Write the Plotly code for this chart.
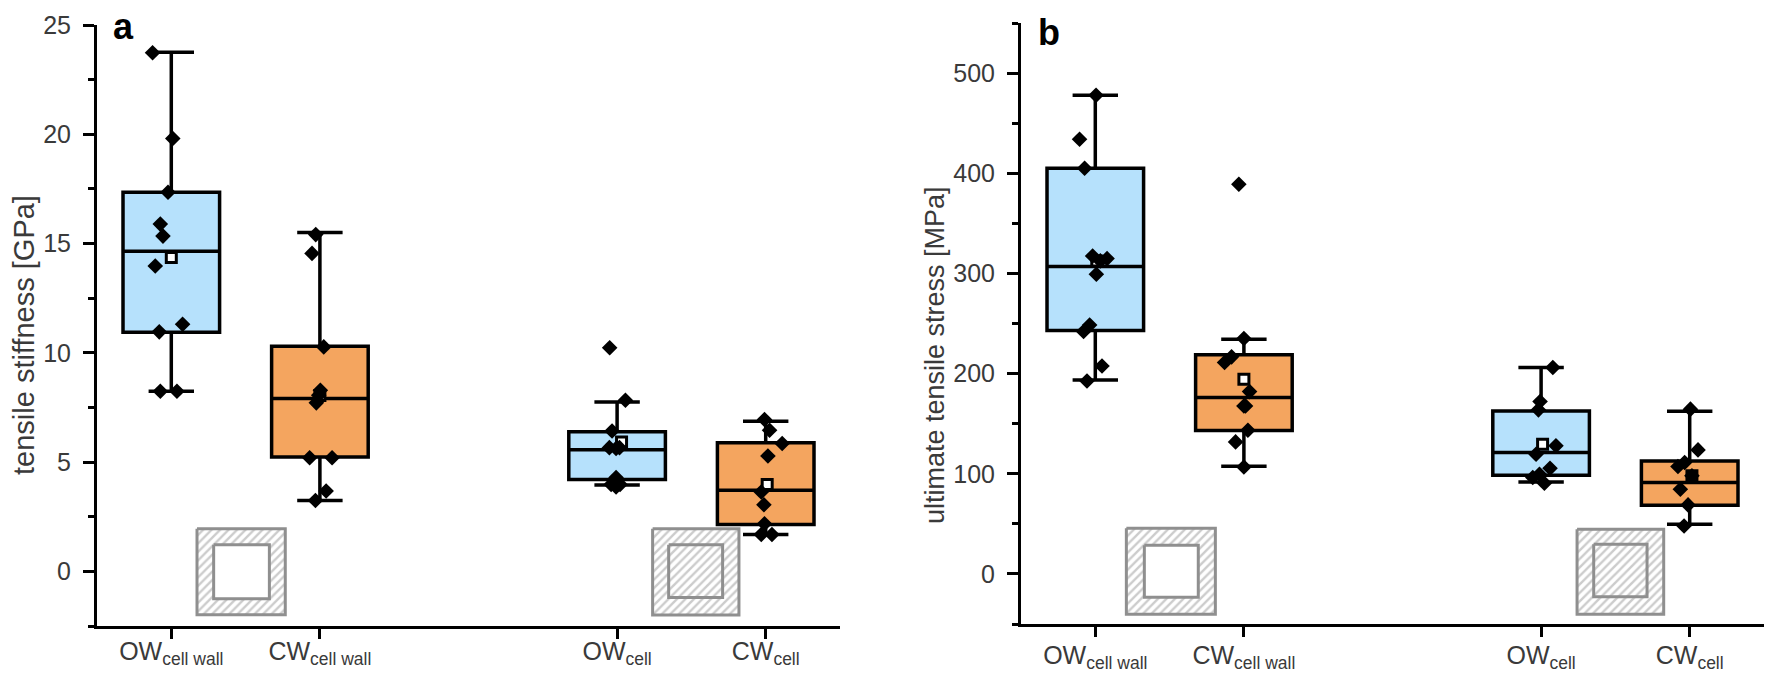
import plotly.graph_objects as go

W, H = 1769, 688
CATEGORIES = ["OW<sub>cell wall</sub>", "CW<sub>cell wall</sub>", "OW<sub>cell</sub>", "CW<sub>cell</sub>"]
POSITIONS = [1, 2, 4, 5]
FILLS = ["#B6E1FC", "#F4A55F", "#B6E1FC", "#F4A55F"]

# ---- panel a: tensile stiffness [GPa]
a_upper = [23.75, 15.5, 7.75, 6.87]
a_q3 = [17.35, 10.3, 6.39, 5.89]
a_median = [14.65, 7.91, 5.57, 3.71]
a_q1 = [10.94, 5.23, 4.2, 2.15]
a_lower = [8.24, 3.24, 3.95, 1.69]
a_mean = [14.36, 8.05, 5.92, 3.98]
a_mean_x = [1.0, 2.0, 4.03, 5.01]
a_pts_x = [
    [0.874, 1.01, 0.978, 0.926, 0.944, 0.892, 1.076, 0.919, 0.926, 1.038],
    [1.972, 1.947, 2.026, 2.003, 1.992, 1.976, 1.931, 2.082, 2.042, 1.97],
    [3.95, 4.056, 3.966, 3.948, 3.993, 4.016, 3.993, 3.96, 3.993, 4.02],
    [4.992, 5.026, 5.111, 5.015, 4.97, 4.988, 4.992, 4.97, 5.042],
]
a_pts_y = [
    [23.73, 19.81, 17.35, 15.89, 15.34, 13.97, 11.31, 10.96, 8.24, 8.24],
    [15.41, 14.55, 10.27, 8.29, 8.06, 7.71, 5.2, 5.2, 3.68, 3.24],
    [10.23, 7.83, 6.42, 5.66, 5.62, 5.66, 4.29, 3.98, 3.86, 3.98],
    [6.95, 6.46, 5.85, 5.28, 3.63, 3.05, 2.18, 1.69, 1.69],
]

# ---- panel b: ultimate tensile stress [MPa]
b_upper = [477.9, 234.3, 206, 162.5]
b_q3 = [405, 218.7, 162.7, 112.8]
b_median = [306.9, 176, 121.2, 91.2]
b_q1 = [243.1, 143.1, 98.5, 68.6]
b_lower = [193.7, 107.5, 91.8, 49.6]
b_mean = [312.5, 194.3, 129.5, 97.9]
b_mean_x = [1.01, 2.0, 4.01, 5.015]
b_pts_x = [
    [1.005, 0.894, 0.928, 0.982, 1.079, 1.034, 1.007, 0.962, 0.921, 1.045, 0.944],
    [1.966, 2.0, 1.917, 1.87, 2.038, 2.011, 2.0, 2.027, 1.944, 2.0],
    [4.079, 3.993, 3.982, 4.1, 3.966, 4.06, 3.989, 3.944, 4.022],
    [5.005, 5.056, 4.966, 4.921, 5.015, 4.937, 4.989, 4.962],
]
b_pts_y = [
    [477.9, 433.9, 405, 317.4, 314.8, 312.5, 299.2, 248.5, 242, 207.6, 192.6],
    [389, 235, 216.7, 211, 182, 167.7, 167.7, 143.4, 131.8, 106.8],
    [206, 172.1, 163.8, 127.9, 119.5, 105.5, 99.5, 96.2, 90.5],
    [164.5, 123.8, 111.2, 107.2, 97.9, 84.6, 68.9, 47.9],
]

# ---- inset squares: (x0, x1, y0, y1) in axis units
a_insets = [((1.173, 1.767, 1.955, -1.98), (1.285, 1.66, 1.22, -1.25), False),
            ((4.239, 4.82, 1.955, -2.0), (4.347, 4.71, 1.22, -1.2), True)]
b_insets = [((1.209, 1.808, 45.6, -40.2), (1.33, 1.693, 28.7, -23.2), False),
            ((4.242, 4.825, 44.6, -40.2), (4.354, 4.713, 29.7, -22.9), True)]

TEXT = "#3a3a3a"
HATCH = dict(shape="/", fgcolor="#999999", bgcolor="white", size=6, solidity=0.4)

fig = go.Figure()


def square(b):
    x0, x1, y0, y1 = b
    return [x0, x1, x1, x0, x0], [y0, y0, y1, y1, y0]


def panel(xa, ya, upper, q3, med, q1, lower, mean, mean_x, px, py, insets):
    for i, pos in enumerate(POSITIONS):
        fig.add_trace(go.Box(
            x=[pos], q1=[q1[i]], median=[med[i]], q3=[q3[i]],
            lowerfence=[lower[i]], upperfence=[upper[i]],
            width=0.65, whiskerwidth=0.47, fillcolor=FILLS[i],
            line=dict(color="black", width=3.5), boxpoints=False,
            xaxis=xa, yaxis=ya, showlegend=False))
    fig.add_trace(go.Scatter(
        x=mean_x, y=mean, mode="markers", xaxis=xa, yaxis=ya, showlegend=False,
        marker=dict(symbol="square", size=10, color="white",
                    line=dict(color="black", width=3))))
    for xs, ys in zip(px, py):
        fig.add_trace(go.Scatter(
            x=xs, y=ys, mode="markers", xaxis=xa, yaxis=ya, showlegend=False,
            marker=dict(symbol="diamond", size=12, color="black")))
    for outer, inner, hatched in insets:
        ox, oy = square(outer)
        fig.add_trace(go.Scatter(
            x=ox, y=oy, mode="lines", fill="toself", fillpattern=HATCH,
            line=dict(color="#8f8f8f", width=3), xaxis=xa, yaxis=ya, showlegend=False))
        ix, iy = square(inner)
        kw = dict(fillpattern=HATCH) if hatched else dict(fillcolor="white")
        fig.add_trace(go.Scatter(
            x=ix, y=iy, mode="lines", fill="toself",
            line=dict(color="#8f8f8f", width=3), xaxis=xa, yaxis=ya, showlegend=False, **kw))


panel("x", "y", a_upper, a_q3, a_median, a_q1, a_lower, a_mean, a_mean_x, a_pts_x, a_pts_y, a_insets)
panel("x2", "y2", b_upper, b_q3, b_median, b_q1, b_lower, b_mean, b_mean_x, b_pts_x, b_pts_y, b_insets)

xcommon = dict(range=[0.5, 5.5], tickmode="array", tickvals=POSITIONS, ticktext=CATEGORIES,
               showgrid=False, zeroline=False, showline=True, linecolor="black", linewidth=3,
               ticks="outside", ticklen=10, tickwidth=3, tickcolor="black",
               tickfont=dict(family="Liberation Sans", size=25, color=TEXT), automargin=False)
ycommon = dict(showgrid=False, zeroline=False, showline=True, linecolor="black", linewidth=3,
               ticks="outside", ticklen=11, tickwidth=3, tickcolor="black", ticklabelstandoff=7,
               tickfont=dict(family="Liberation Sans", size=25, color=TEXT), automargin=False)

fig.update_layout(
    width=W, height=H, margin=dict(l=0, r=0, t=0, b=0), autosize=False,
    paper_bgcolor="white", plot_bgcolor="white", showlegend=False, boxmode="overlay",
    xaxis=dict(domain=[97 / W, 840 / W], anchor="y", ticklabelstandoff=-9, **xcommon),
    yaxis=dict(domain=[(H - 626) / H, (H - 25) / H], anchor="x", range=[-2.5, 25],
               tickvals=[0, 5, 10, 15, 20, 25],
               minor=dict(tickvals=[-2.5, 2.5, 7.5, 12.5, 17.5, 22.5], ticks="outside",
                          ticklen=6, tickwidth=3, tickcolor="black"),
               **ycommon),
    xaxis2=dict(domain=[1021 / W, 1764 / W], anchor="y2", ticklabelstandoff=-3, **xcommon),
    yaxis2=dict(domain=[(H - 624) / H, (H - 23) / H], anchor="x2", range=[-50, 550],
                tickvals=[0, 100, 200, 300, 400, 500],
                minor=dict(tickvals=[-50, 50, 150, 250, 350, 450, 550], ticks="outside",
                           ticklen=6, tickwidth=3, tickcolor="black"),
                **ycommon),
    annotations=[
        dict(text="tensile stiffness [GPa]", xref="paper", yref="paper",
             x=24 / W, y=(H - 335) / H, textangle=-90, xanchor="center", yanchor="middle",
             showarrow=False, font=dict(family="Liberation Sans", size=29, color=TEXT)),
        dict(text="ultimate tensile stress [MPa]", xref="paper", yref="paper",
             x=935 / W, y=(H - 355) / H, textangle=-90, xanchor="center", yanchor="middle",
             showarrow=False, font=dict(family="Liberation Sans", size=27, color=TEXT)),
        dict(text="<b>a</b>", xref="paper", yref="paper", x=111 / W, y=(H - 27) / H,
             xanchor="left", yanchor="middle", showarrow=False,
             font=dict(family="Liberation Sans", size=36, color="black")),
        dict(text="<b>b</b>", xref="paper", yref="paper", x=1036 / W, y=(H - 33) / H,
             xanchor="left", yanchor="middle", showarrow=False,
             font=dict(family="Liberation Sans", size=36, color="black")),
    ],
)

fig.write_html("out.html", config={"displayModeBar": False},
               post_script="document.body.style.margin='0';")
